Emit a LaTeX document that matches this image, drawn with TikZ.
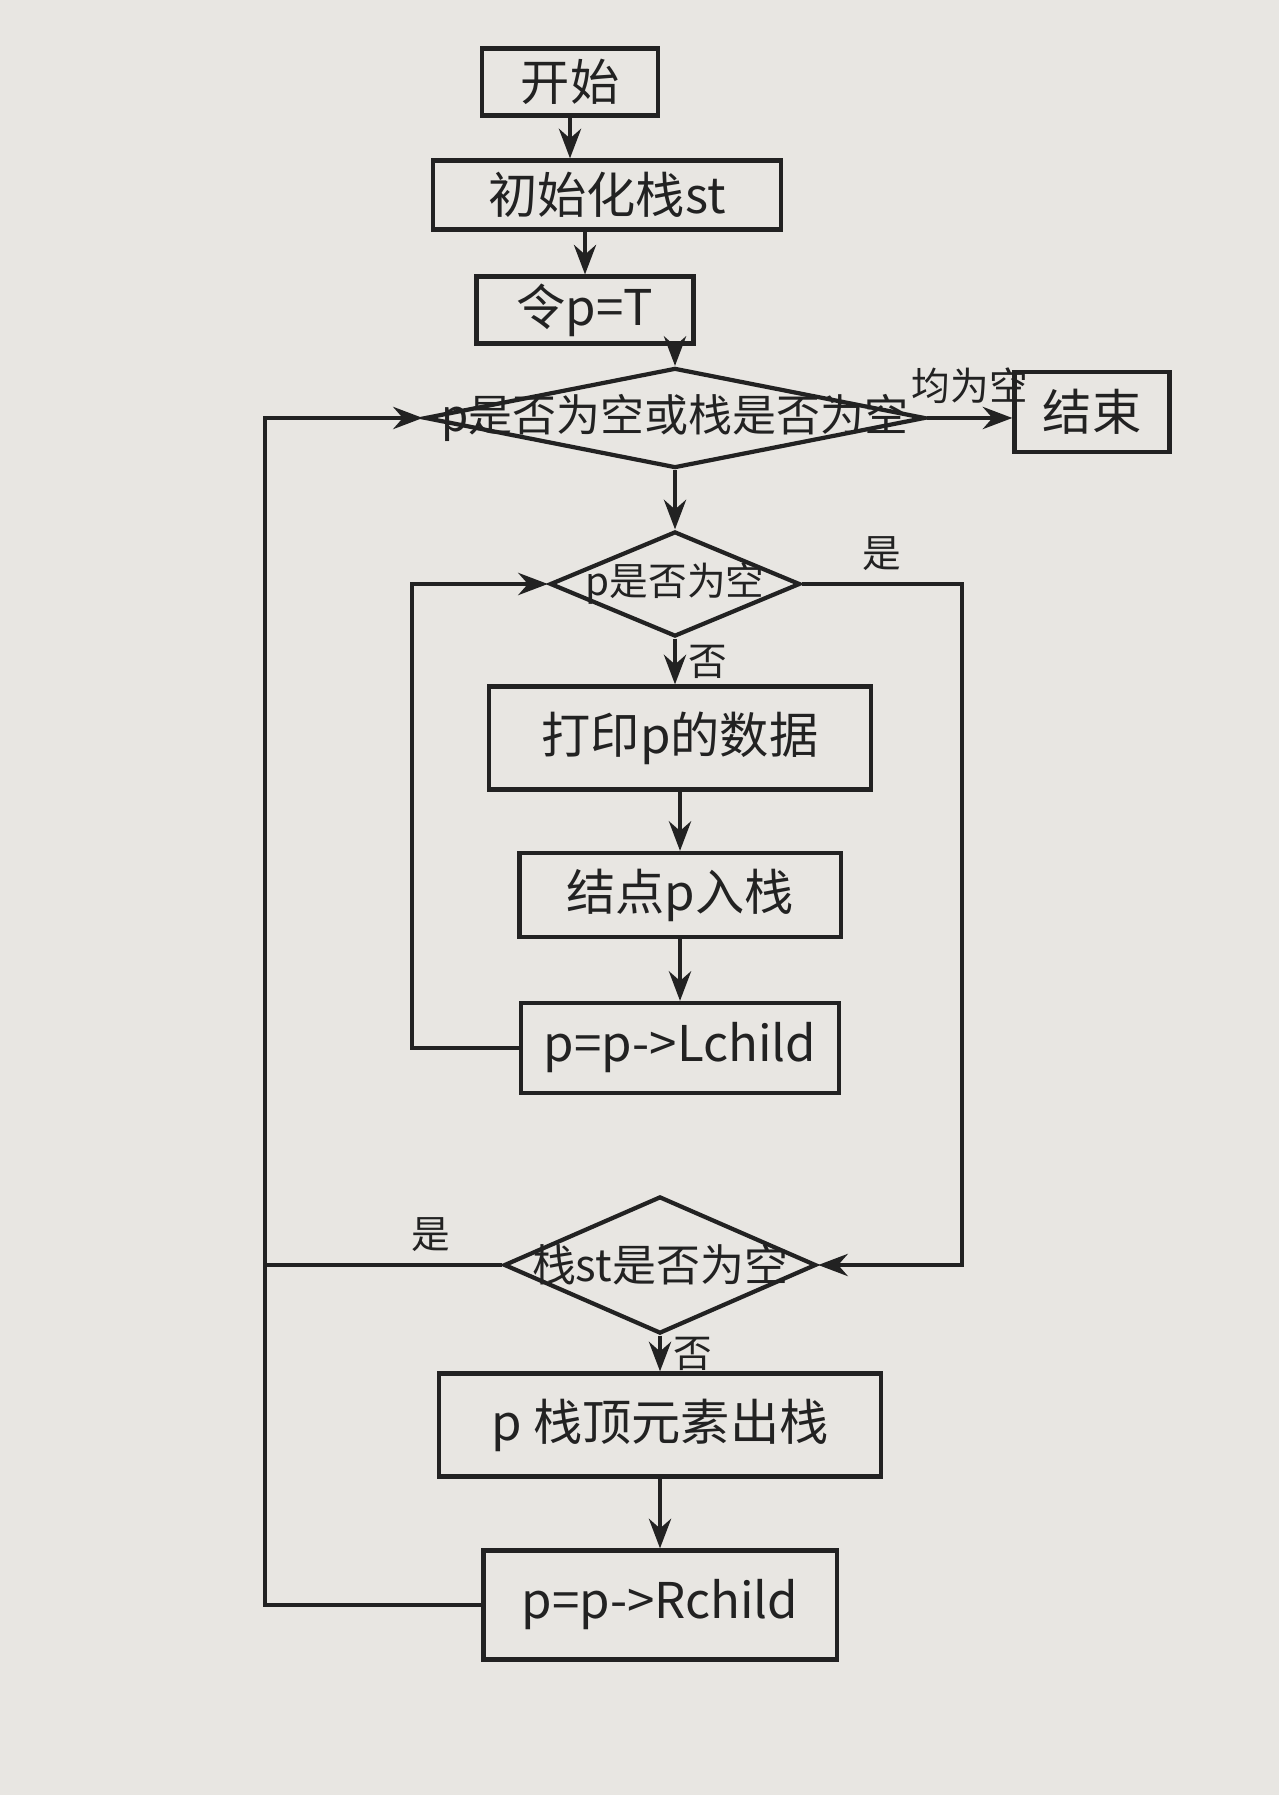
\documentclass[tikz,border=0pt]{standalone}
\usepackage{fontspec}
\usepackage{tikz}
\usetikzlibrary{arrows.meta,shapes.geometric}
\newfontfamily\cjk{Noto Sans CJK SC}
\definecolor{PaperGrey}{HTML}{E8E6E2}
\definecolor{InkDark}{HTML}{222222}

\begin{document}
\begin{tikzpicture}[>=Stealth,x=0.01cm,y=-0.01cm,color=InkDark,line width=1.2pt,
  font=\cjk\fontsize{14}{17}\selectfont,
  proc/.style={draw,rectangle,inner sep=2pt},
  decide/.style={draw,diamond,inner sep=0pt},
  small/.style={font=\cjk\fontsize{11}{13}\selectfont},
  mid/.style={font=\cjk\fontsize{12.5}{15}\selectfont}]
  \fill[PaperGrey] (0,0) rectangle (1279,1795);
  \coordinate (lloop) at (412,0);
  \coordinate (rloop) at (962,0);
  \coordinate (oloop) at (265,0);

  \node[proc,minimum width=1.76cm,minimum height=0.67cm] (start) at (570,82) {开始};
  \node[proc,minimum width=3.48cm,minimum height=0.69cm] (init) at (607,195) {初始化栈st};
  \node[proc,minimum width=2.17cm,minimum height=0.55cm] (setp) at (585,310) {令p=T};
  \node[decide,minimum width=5cm,minimum height=1cm,
    label={[mid]center:p是否为空或栈是否为空}] (d1) at (675,418) {};
  \node[proc,minimum width=1.55cm,minimum height=0.8cm] (end) at (1092,412) {结束};
  \node[decide,minimum width=2.5cm,minimum height=1.05cm,
    label={[small]center:p是否为空}] (d2) at (675,584) {};
  \node[proc,minimum width=3.82cm,minimum height=1.03cm] (print) at (680,738) {打印p的数据};
  \node[proc,minimum width=3.21cm,minimum height=0.84cm] (push) at (680,895) {结点p入栈};
  \node[proc,minimum width=3.18cm,minimum height=0.9cm] (lchild) at (680,1048) {p=p->Lchild};
  \node[decide,minimum width=3.12cm,minimum height=1.37cm,
    label={[mid]center:栈st是否为空}] (d3) at (660,1265) {};
  \node[proc,minimum width=4.41cm,minimum height=1.03cm] (pop) at (660,1425) {p 栈顶元素出栈};
  \node[proc,minimum width=3.53cm,minimum height=1.09cm] (rchild) at (660,1605) {p=p->Rchild};

  \draw[->] (start) -- (start |- init.north);
  \draw[->] (init.south -| setp) -- (setp);
  \draw[->] (setp.south -| d1) -- (d1);
  \draw[->] (d1.east) -- node[small,above]{均为空} (d1.east -| end.west);
  \draw[->] (d1) -- (d2);
  \draw[->] (d2.south) -- node[small,right]{否} (d2.south |- print.north);
  \draw[->] (print) -- (push);
  \draw[->] (push) -- (lchild);
  \draw[->] (lchild.west) -- (lchild.west -| lloop) -- (d2.west -| lloop) -- (d2.west);
  \draw[->] (d2.east) -- node[small,above]{是} (d2.east -| rloop) -- (d3.east -| rloop) -- (d3.east);
  \draw[->] (d3) -- node[small,right]{否} (pop);
  \draw[->] (pop) -- (rchild);
  \draw (d3.west) -- node[small,above,pos=0.3]{是} (d3.west -| oloop);
  \draw[->] (rchild.west) -- (rchild.west -| oloop) -- (d1.west -| oloop) -- (d1.west);
\end{tikzpicture}
\end{document}
